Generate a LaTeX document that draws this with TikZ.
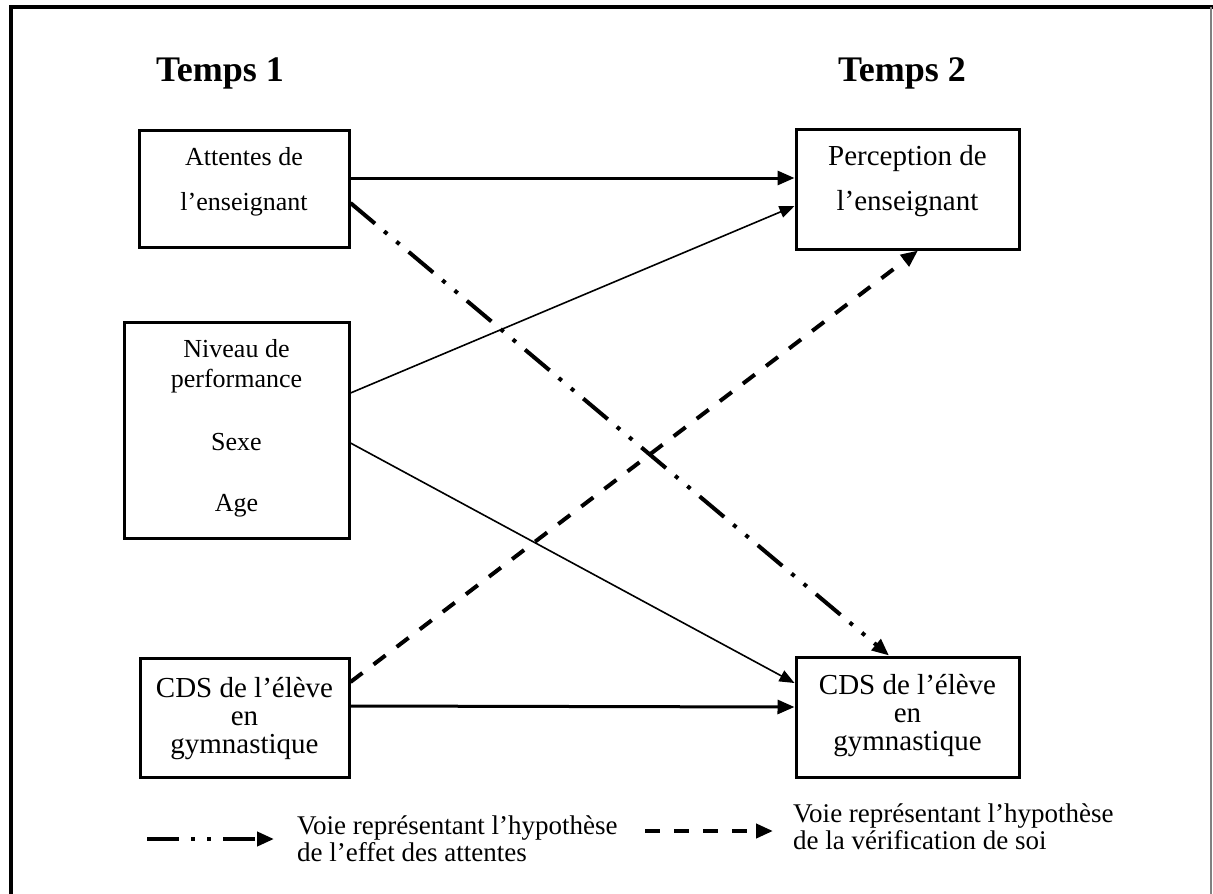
\documentclass[tikz,border=0pt]{standalone}
\usepackage{fontspec}
\setmainfont{Liberation Serif}
\usetikzlibrary{arrows.meta,calc}
\begin{document}
\begin{tikzpicture}[x=1pt,y=-1pt,
  box/.style={draw, line width=3pt, inner sep=0pt},
  txt/.style={font=\fontsize{26}{30}\selectfont, align=center, inner sep=0pt, anchor=base},
  btxt/.style={txt, font=\fontsize{29}{28}\selectfont},
  ltxt/.style={font=\fontsize{27}{26.5}\selectfont, align=left, inner sep=0pt, anchor=base west},
  head/.style={font=\fontsize{36}{38}\selectfont\bfseries, inner sep=0pt, anchor=base},
  tip/.style={-{Triangle[length=17pt,width=14pt]}},
  stip/.style={-{Triangle[length=15pt,width=12pt]}},
  thickarrow/.style={tip, line width=3pt},
  thinarrow/.style={stip, line width=1.6pt},
  verif/.style={tip, line width=4pt, dash pattern=on 15pt off 14pt},
  attente/.style={tip, line width=4pt, dash pattern=on 32pt off 12pt on 4pt off 12pt on 4pt off 12pt}
]
\useasboundingbox (0,0) rectangle (1213,894);
% frame
\draw[line width=4pt] (10.5,894) -- (10.5,7) -- (1213,7);
\draw[gray, line width=2pt] (1211,7) -- (1211,894);

% headings
\node[head] (t1) at (220,81) {Temps 1};
\node[head] (t2) at (902,81) {Temps 2};

% boxes
\node[box, minimum width=210, minimum height=117] (att) at (244,188.5) {};
\node[box, minimum width=225, minimum height=216] (niv) at (236.5,430) {};
\node[box, minimum width=209, minimum height=119] (cdsL) at (244.5,717.5) {};
\node[box, minimum width=223, minimum height=120] (perc) at (907.5,189) {};
\node[box, minimum width=223, minimum height=120] (cdsR) at (907.5,717) {};

% box texts (anchor = baseline of last line)
\node[txt] (attT) at (244,210) {Attentes de\\[15pt]l’enseignant};
\node[txt] (nivT) at (236.5,511) {Niveau de\\performance\\[33pt]Sexe\\[31pt]Age};
\node[btxt] (cdsLT) at (244.5,753) {CDS de l’élève\\en\\gymnastique};
\node[btxt] (percT) at (907.5,210) {Perception de\\[17pt]l’enseignant};
\node[btxt] (cdsRT) at (907.5,750) {CDS de l’élève\\en\\gymnastique};

% connectors
\draw[thickarrow] ([yshift=10.5pt]att.east) -- ([yshift=11pt]perc.west);
\draw[thinarrow] ([yshift=37pt]niv.east) -- ([yshift=-17pt]perc.west);
\draw[thinarrow] ([yshift=-13pt]niv.east) -- ([yshift=34pt]cdsR.west);
\draw[thickarrow] ([yshift=11.5pt]cdsL.east) -- ([yshift=10pt]cdsR.west);
\draw[verif] ([yshift=35.5pt]cdsL.east) -- ([xshift=10.5pt]perc.south);
\draw[attente] ([yshift=-14.5pt]att.east) -- ([xshift=-18.5pt]cdsR.north);

% legend
\coordinate (l1a) at (147,839);
\coordinate (l1b) at (274,839);
\coordinate (l2a) at (645,831);
\coordinate (l2b) at (773,831);
\draw[attente] (l1a) -- (l1b);
\draw[verif] (l2a) -- (l2b);
\node[ltxt] (leg1) at (297,861) {Voie représentant l’hypothèse\\de l’effet des attentes};
\node[ltxt] (leg2) at (793,849) {Voie représentant l’hypothèse\\de la vérification de soi};
\end{tikzpicture}
\end{document}
